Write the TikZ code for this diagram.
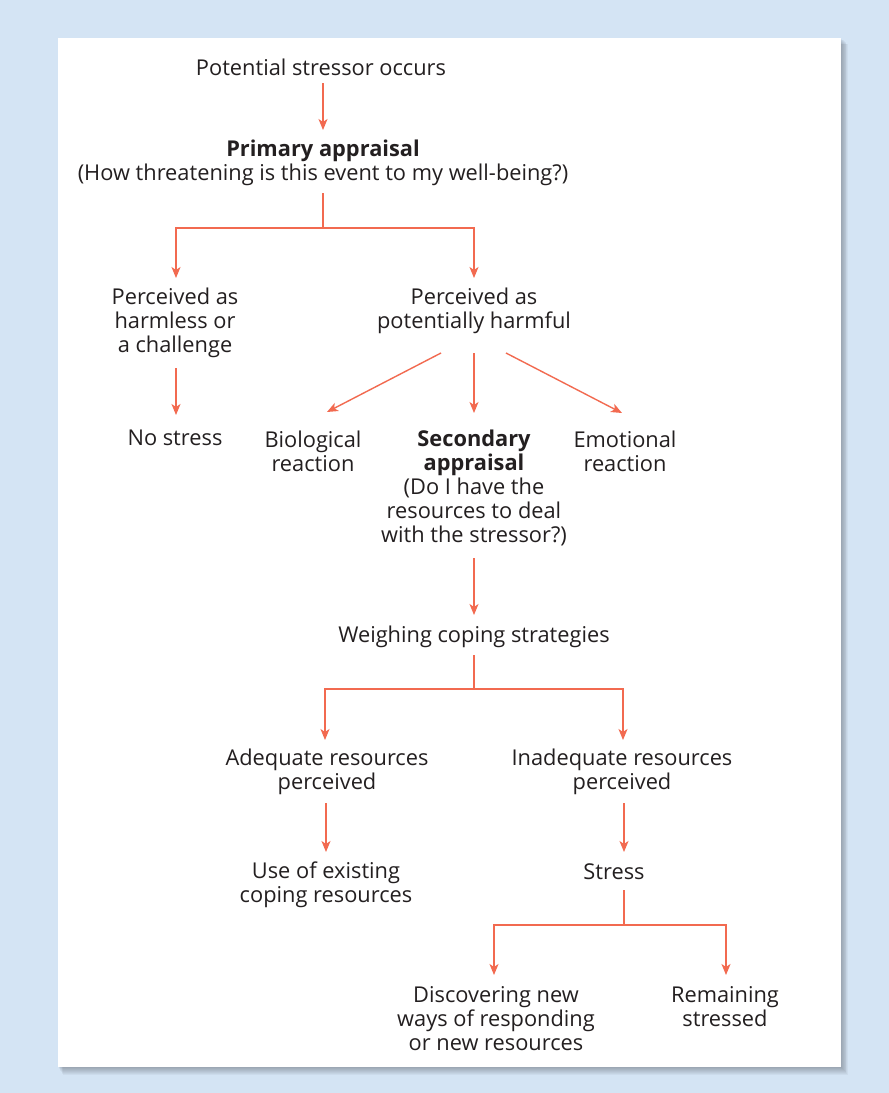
\documentclass[tikz,border=0pt]{standalone}
\usepackage{fontspec}
\setmainfont{Open Sans}
\usetikzlibrary{arrows.meta,calc}
\definecolor{bgblue}{HTML}{D4E4F4}
\definecolor{arrc}{HTML}{F26A50}
\definecolor{txt}{HTML}{231F20}
\tikzset{
  lbl/.style={align=center,inner sep=0pt,text=txt,font=\fontsize{21.8}{24}\selectfont},
  ln/.style={draw=arrc,line width=1.4pt},
  arr/.style={ln,-{Stealth[length=11pt,width=9pt,inset=3pt]}},
}
\begin{document}
\begin{tikzpicture}[x=1pt,y=-1pt]
\useasboundingbox (0,0) rectangle (889,1093);
\fill[bgblue] (0,0) rectangle (889,1093);
% shadow
\foreach \i in {1,...,8}{
  \fill[black,opacity=0.035] (58+\i*0.6,38+\i*0.8) rectangle (841+\i*0.9,1067+\i*1.0);
}
\fill[white] (58,38) rectangle (841,1067);

\node[lbl] (pso) at (321,67) {Potential stressor occurs};
\node[lbl] (pa) at (323,163) {\textbf{Primary appraisal}\\(How threatening is this event to my well-being?)};
\node[lbl] (harm) at (175,323) {Perceived as\\harmless or\\a challenge};
\node[lbl] (pharm) at (474,311) {Perceived as\\potentially harmful};
\node[lbl] (nos) at (175,438) {No stress};
\node[lbl] (bio) at (313,451) {Biological\\reaction};
\node[lbl] (sec) at (474,488) {\textbf{Secondary}\\\textbf{appraisal}\\(Do I have the\\resources to deal\\with the stressor?)};
\node[lbl] (emo) at (625,451) {Emotional\\reaction};
\node[lbl] (weigh) at (474,637) {Weighing coping strategies};
\node[lbl] (adeq) at (327,772) {Adequate resources\\perceived};
\node[lbl] (inad) at (622,772) {Inadequate resources\\perceived};
\node[lbl] (use) at (326,885) {Use of existing\\coping resources};
\node[lbl] (stress) at (614,872) {Stress};
\node[lbl] (disc) at (496,1019) {Discovering new\\ways of responding\\or new resources};
\node[lbl] (rem) at (725,1007) {Remaining\\stressed};

\coordinate (a1s) at (323,83);
\coordinate (a1e) at (323,130);
\draw[arr] (a1s) -- (a1e);

\coordinate (j1t) at (323,193);
\coordinate (j1) at (323,228);
\coordinate (h1) at (176,278);
\coordinate (h2) at (474,278);
\draw[ln] (j1t) -- (j1);
\draw[arr] (j1) -| (h1);
\draw[arr] (j1) -| (h2);

\coordinate (n1s) at (176,368);
\coordinate (n1e) at (176,415);
\draw[arr] (n1s) -- (n1e);

\coordinate (b1s) at (441,353);
\coordinate (b1e) at (327,412);
\coordinate (s1s) at (474,353);
\coordinate (s1e) at (474,413);
\coordinate (e1s) at (506,353);
\coordinate (e1e) at (622,413);
\draw[arr] (b1s) -- (b1e);
\draw[arr] (s1s) -- (s1e);
\draw[arr] (e1s) -- (e1e);

\coordinate (w1s) at (474,558);
\coordinate (w1e) at (474,615);
\draw[arr] (w1s) -- (w1e);

\coordinate (j2t) at (474,655);
\coordinate (j2) at (474,689);
\coordinate (ad) at (325,740);
\coordinate (in) at (623,740);
\draw[ln] (j2t) -- (j2);
\draw[arr] (j2) -| (ad);
\draw[arr] (j2) -| (in);

\coordinate (u1s) at (326,803);
\coordinate (u1e) at (326,852);
\draw[arr] (u1s) -- (u1e);
\coordinate (st1s) at (624,803);
\coordinate (st1e) at (624,852);
\draw[arr] (st1s) -- (st1e);

\coordinate (j3t) at (624,890);
\coordinate (j3) at (624,925);
\coordinate (di) at (494,975);
\coordinate (re) at (726,975);
\draw[ln] (j3t) -- (j3);
\draw[arr] (j3) -| (di);
\draw[arr] (j3) -| (re);
\end{tikzpicture}
\end{document}
